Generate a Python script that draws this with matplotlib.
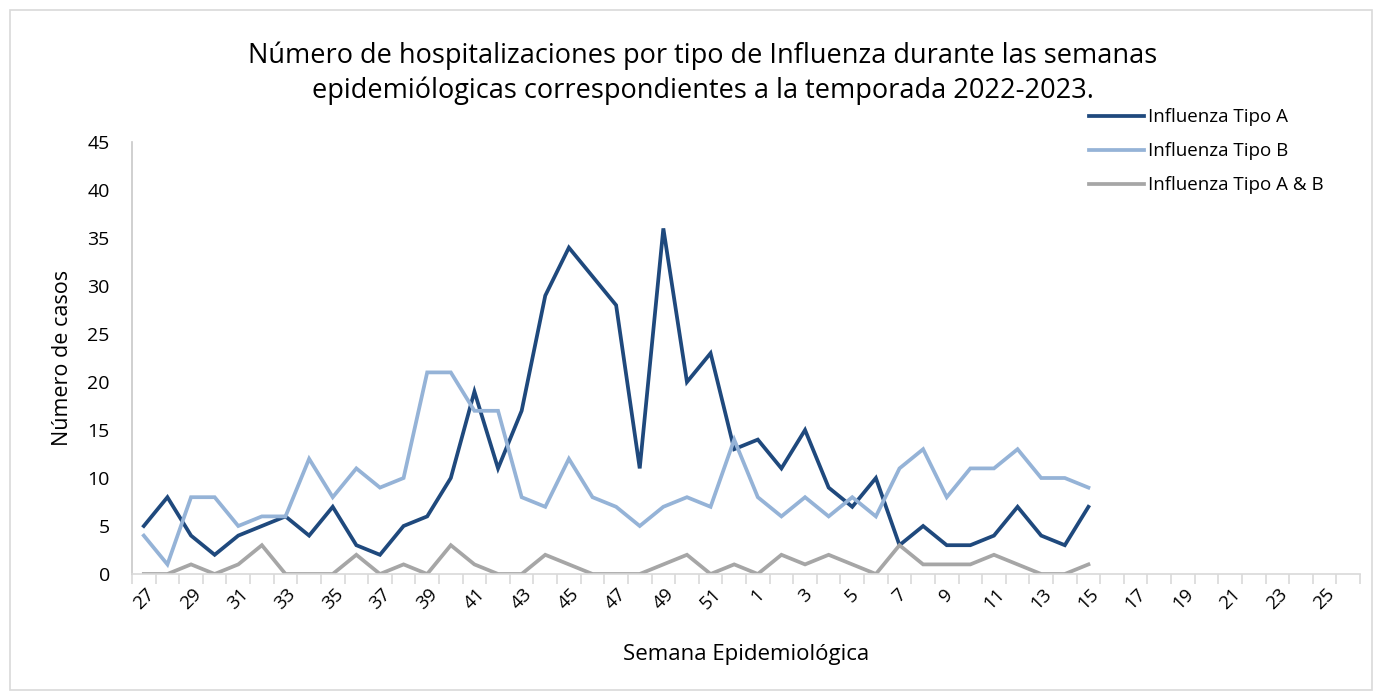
import matplotlib.pyplot as plt
from matplotlib.patches import Rectangle

# semanas epidemiologicas 27-52 (2022) y 1-26 (2023)
semanas = [str(w) for w in range(27, 53)] + [str(w) for w in range(1, 27)]

tipo_a = [5, 8, 4, 2, 4, 5, 6, 4, 7, 3, 2, 5, 6, 10, 19, 11, 17, 29, 34, 31,
          28, 11, 36, 20, 23, 13, 14, 11, 15, 9, 7, 10, 3, 5, 3, 3, 4, 7, 4, 3, 7]
tipo_b = [4, 1, 8, 8, 5, 6, 6, 12, 8, 11, 9, 10, 21, 21, 17, 17, 8, 7, 12, 8,
          7, 5, 7, 8, 7, 14, 8, 6, 8, 6, 8, 6, 11, 13, 8, 11, 11, 13, 10, 10, 9]
tipo_ab = [0, 0, 1, 0, 1, 3, 0, 0, 0, 2, 0, 1, 0, 3, 1, 0, 0, 2, 1, 0,
           0, 0, 1, 2, 0, 1, 0, 2, 1, 2, 1, 0, 3, 1, 1, 1, 2, 1, 0, 0, 1]

series = {
    "Influenza Tipo A": (tipo_a, "#1F497D"),
    "Influenza Tipo B": (tipo_b, "#95B3D7"),
    "Influenza Tipo A & B": (tipo_ab, "#A6A6A6"),
}

plt.rcParams['font.family'] = ['Open Sans', 'DejaVu Sans']

fig = plt.figure(figsize=(13.82, 6.94), dpi=100)
ax = fig.add_axes([132 / 1382, 1 - 574 / 694, 1228 / 1382, 432 / 694])

# chart border
fig.patches.append(Rectangle((10 / 1382, 4 / 694), 1362 / 1382, 680 / 694,
                             transform=fig.transFigure, fill=False,
                             edgecolor="#D9D9D9", linewidth=1.2))

for name, (vals, color) in series.items():
    ax.plot(range(len(vals)), vals, color=color, linewidth=2.7, label=name,
            solid_joinstyle="miter")

ax.set_xlim(-0.5, len(semanas) - 0.5)
ax.set_ylim(0, 45)
ax.set_yticks(range(0, 46, 5))
ax.tick_params(axis="y", length=0, labelsize=14, pad=16)

ax.set_xticks(range(0, len(semanas), 2))
ax.set_xticklabels(semanas[::2], rotation=45, fontsize=13.5)
ax.tick_params(axis="x", length=0, pad=8)
ax.set_xticks([i - 0.5 for i in range(len(semanas) + 1)], minor=True)
ax.tick_params(axis="x", which="minor", length=7, color="#D9D9D9", width=1.2)

for s in ["top", "right"]:
    ax.spines[s].set_visible(False)
ax.spines["left"].set_color("#C8C8C8")
ax.spines["bottom"].set_color("#D9D9D9")
ax.spines["left"].set_linewidth(1.2)
ax.spines["bottom"].set_linewidth(1.2)

ax.set_ylabel("Número de casos", fontsize=15.5, labelpad=10)
ax.set_xlabel("Semana Epidemiológica", fontsize=16, labelpad=22)

fig.text(703 / 1382, 1 - 73 / 694,
         "Número de hospitalizaciones por tipo de Influenza durante las semanas\n"
         "epidemiólogicas correspondientes a la temporada 2022-2023.",
         ha="center", va="center", fontsize=19.5, linespacing=1.3)

fig.legend(loc="upper left", bbox_to_anchor=(1080 / 1382, 1 - 99 / 694),
           frameon=False, fontsize=13.5, handlelength=2.9, handletextpad=0.2,
           labelspacing=0.85, borderpad=0)

fig.savefig("out.png", dpi=100)
